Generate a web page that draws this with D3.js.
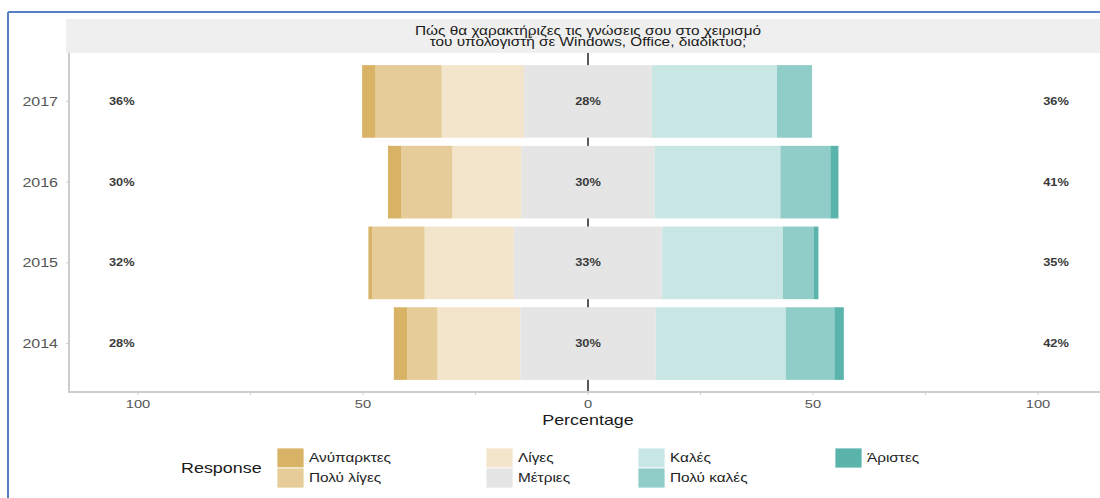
<!DOCTYPE html>
<html>
<head>
<meta charset="utf-8">
<script src="https://cdn.jsdelivr.net/npm/d3@7/dist/d3.min.js"></script>
<style>
  html, body { margin: 0; padding: 0; background: #fff; }
  svg { display: block; font-family: "Liberation Sans", Arial, sans-serif; }
</style>
</head>
<body>
<svg id="chart" width="1100" height="498"></svg>
<script>
// ---- data ----
const years = ["2017", "2016", "2015", "2014"];
const levels = ["Ανύπαρκτες", "Πολύ λίγες", "Λίγες", "Μέτριες", "Καλές", "Πολύ καλές", "Άριστες"];
const anyparktes = [3.0, 2.9, 0.9, 3.0];
const polyLiges  = [14.7, 11.4, 11.6, 6.7];
const liges      = [18.3, 15.3, 19.8, 18.4];
const metries    = [28.4, 29.7, 33.0, 30.1];
const kales      = [27.8, 27.9, 26.8, 28.9];
const polyKales  = [7.8, 11.1, 6.8, 10.8];
const aristes    = [0.0, 1.8, 1.1, 2.1];
const xTicks = [-100, -50, 0, 50, 100];
const xMinorTicks = [-100, -75, -50, -25, 0, 25, 50, 75, 100];
const colors = ["#D8B365", "#E5CC98", "#F2E5CB", "#E5E5E5", "#C8E6E4", "#91CDC8", "#5AB4AC"];
const titleLines = ["Πώς θα χαρακτήριζες τις γνώσεις σου στο χειρισμό", "του υπολογιστή σε Windows, Office, διαδίκτυο;"];

const series = [anyparktes, polyLiges, liges, metries, kales, polyKales, aristes];

// ---- layout ----
const SX = 1.28; // horizontal text stretch of the reference
const svg = d3.select("#chart");
const panel = { left: 66, right: 1100, top: 53, bottom: 392 };

const x = d3.scaleLinear().domain([-100, 100]).range([138, 1038]);
const y = d3.scaleBand().domain(years).range([panel.top, panel.bottom]).paddingInner(0.1).paddingOuter(0.15);

function txt(g, xp, yp, s) {
  return g.append("text").attr("transform", `translate(${xp},${yp}) scale(${SX},1)`).text(s);
}

// blue frame
svg.append("line").attr("x1", 8).attr("x2", 1100).attr("y1", 12).attr("y2", 12)
  .attr("stroke", "#5680C6").attr("stroke-width", 2);
svg.append("line").attr("x1", 8).attr("x2", 8).attr("y1", 12).attr("y2", 498)
  .attr("stroke", "#5680C6").attr("stroke-width", 2);

// strip
svg.append("rect").attr("x", panel.left).attr("y", 19).attr("width", panel.right - panel.left).attr("height", panel.top - 19)
  .attr("fill", "#EFEFEF");
titleLines.forEach((t, i) => {
  txt(svg, 588, 34.5 + i * 11.5, t)
    .attr("text-anchor", "middle").attr("font-size", 12).attr("fill", "#1a1a1a");
});

// zero line (behind bars)
svg.append("line").attr("x1", x(0)).attr("x2", x(0)).attr("y1", panel.top).attr("y2", panel.bottom)
  .attr("stroke", "#222").attr("stroke-width", 1.5);

// bars
const segs = [];
years.forEach((yr, i) => {
  const m = metries[i];
  segs.push({ yr, lvl: 3, x0: -m / 2, x1: m / 2 });
  let cur = -m / 2;
  for (let k = 2; k >= 0; k--) {
    const v = series[k][i];
    segs.push({ yr, lvl: k, x0: cur - v, x1: cur });
    cur -= v;
  }
  cur = m / 2;
  for (let k = 4; k <= 6; k++) {
    const v = series[k][i];
    segs.push({ yr, lvl: k, x0: cur, x1: cur + v });
    cur += v;
  }
});
svg.append("g").selectAll("rect").data(segs.filter(d => d.x1 > d.x0)).join("rect")
  .attr("x", d => x(d.x0)).attr("width", d => x(d.x1) - x(d.x0))
  .attr("y", d => y(d.yr)).attr("height", y.bandwidth())
  .attr("fill", d => colors[d.lvl]);

// percentage labels
const lab = svg.append("g").attr("font-size", 10).attr("font-weight", "bold").attr("fill", "#3a3a3a")
  .attr("text-anchor", "middle");
years.forEach((yr, i) => {
  const low = anyparktes[i] + polyLiges[i] + liges[i];
  const high = kales[i] + polyKales[i] + aristes[i];
  const cy = y(yr) + y.bandwidth() / 2 + 3.5;
  txt(lab, x(-103.6), cy, Math.round(low) + "%");
  txt(lab, x(0), cy, Math.round(metries[i]) + "%");
  txt(lab, x(104), cy, Math.round(high) + "%");
});

// axes lines
svg.append("line").attr("x1", panel.left + 3).attr("x2", panel.left + 3).attr("y1", panel.top).attr("y2", panel.bottom)
  .attr("stroke", "#CDCDCD").attr("stroke-width", 2);
svg.append("line").attr("x1", panel.left + 2).attr("x2", panel.right).attr("y1", panel.bottom).attr("y2", panel.bottom)
  .attr("stroke", "#CDCDCD").attr("stroke-width", 2);

// x ticks
svg.append("g").selectAll("line").data(xMinorTicks).join("line")
  .attr("x1", d => x(d)).attr("x2", d => x(d)).attr("y1", panel.bottom + 1).attr("y2", panel.bottom + 3)
  .attr("stroke", "#CDCDCD").attr("stroke-width", 1);
const xt = svg.append("g").attr("font-size", 11.5).attr("fill", "#555").attr("text-anchor", "middle");
xTicks.forEach(t => txt(xt, x(t), 408, String(Math.abs(t))));
txt(svg, x(0), 425, "Percentage").attr("text-anchor", "middle").attr("font-size", 14).attr("fill", "#1a1a1a");

// y ticks
const yt = svg.append("g").attr("font-size", 12.5).attr("fill", "#555").attr("text-anchor", "end");
years.forEach(yr => {
  const cy = y(yr) + y.bandwidth() / 2;
  svg.append("line").attr("x1", panel.left).attr("x2", panel.left + 3).attr("y1", cy).attr("y2", cy)
    .attr("stroke", "#CDCDCD").attr("stroke-width", 1);
  txt(yt, 58, cy + 4.5, yr);
});

// legend
const legCols = [277, 486, 638, 835];
const legRows = [448, 468];
txt(svg, 181, 473, "Response").attr("font-size", 14).attr("fill", "#1a1a1a");
const lg = svg.append("g");
levels.forEach((l, i) => {
  const c = Math.floor(i / 2), r = i % 2;
  lg.append("rect").attr("x", legCols[c]).attr("y", legRows[r]).attr("width", 27).attr("height", 20)
    .attr("fill", colors[i]).attr("stroke", "#fff").attr("stroke-width", 0.8);
  txt(lg, legCols[c] + 32, legRows[r] + 14, l).attr("font-size", 12).attr("fill", "#222");
});
</script>
</body>
</html>
